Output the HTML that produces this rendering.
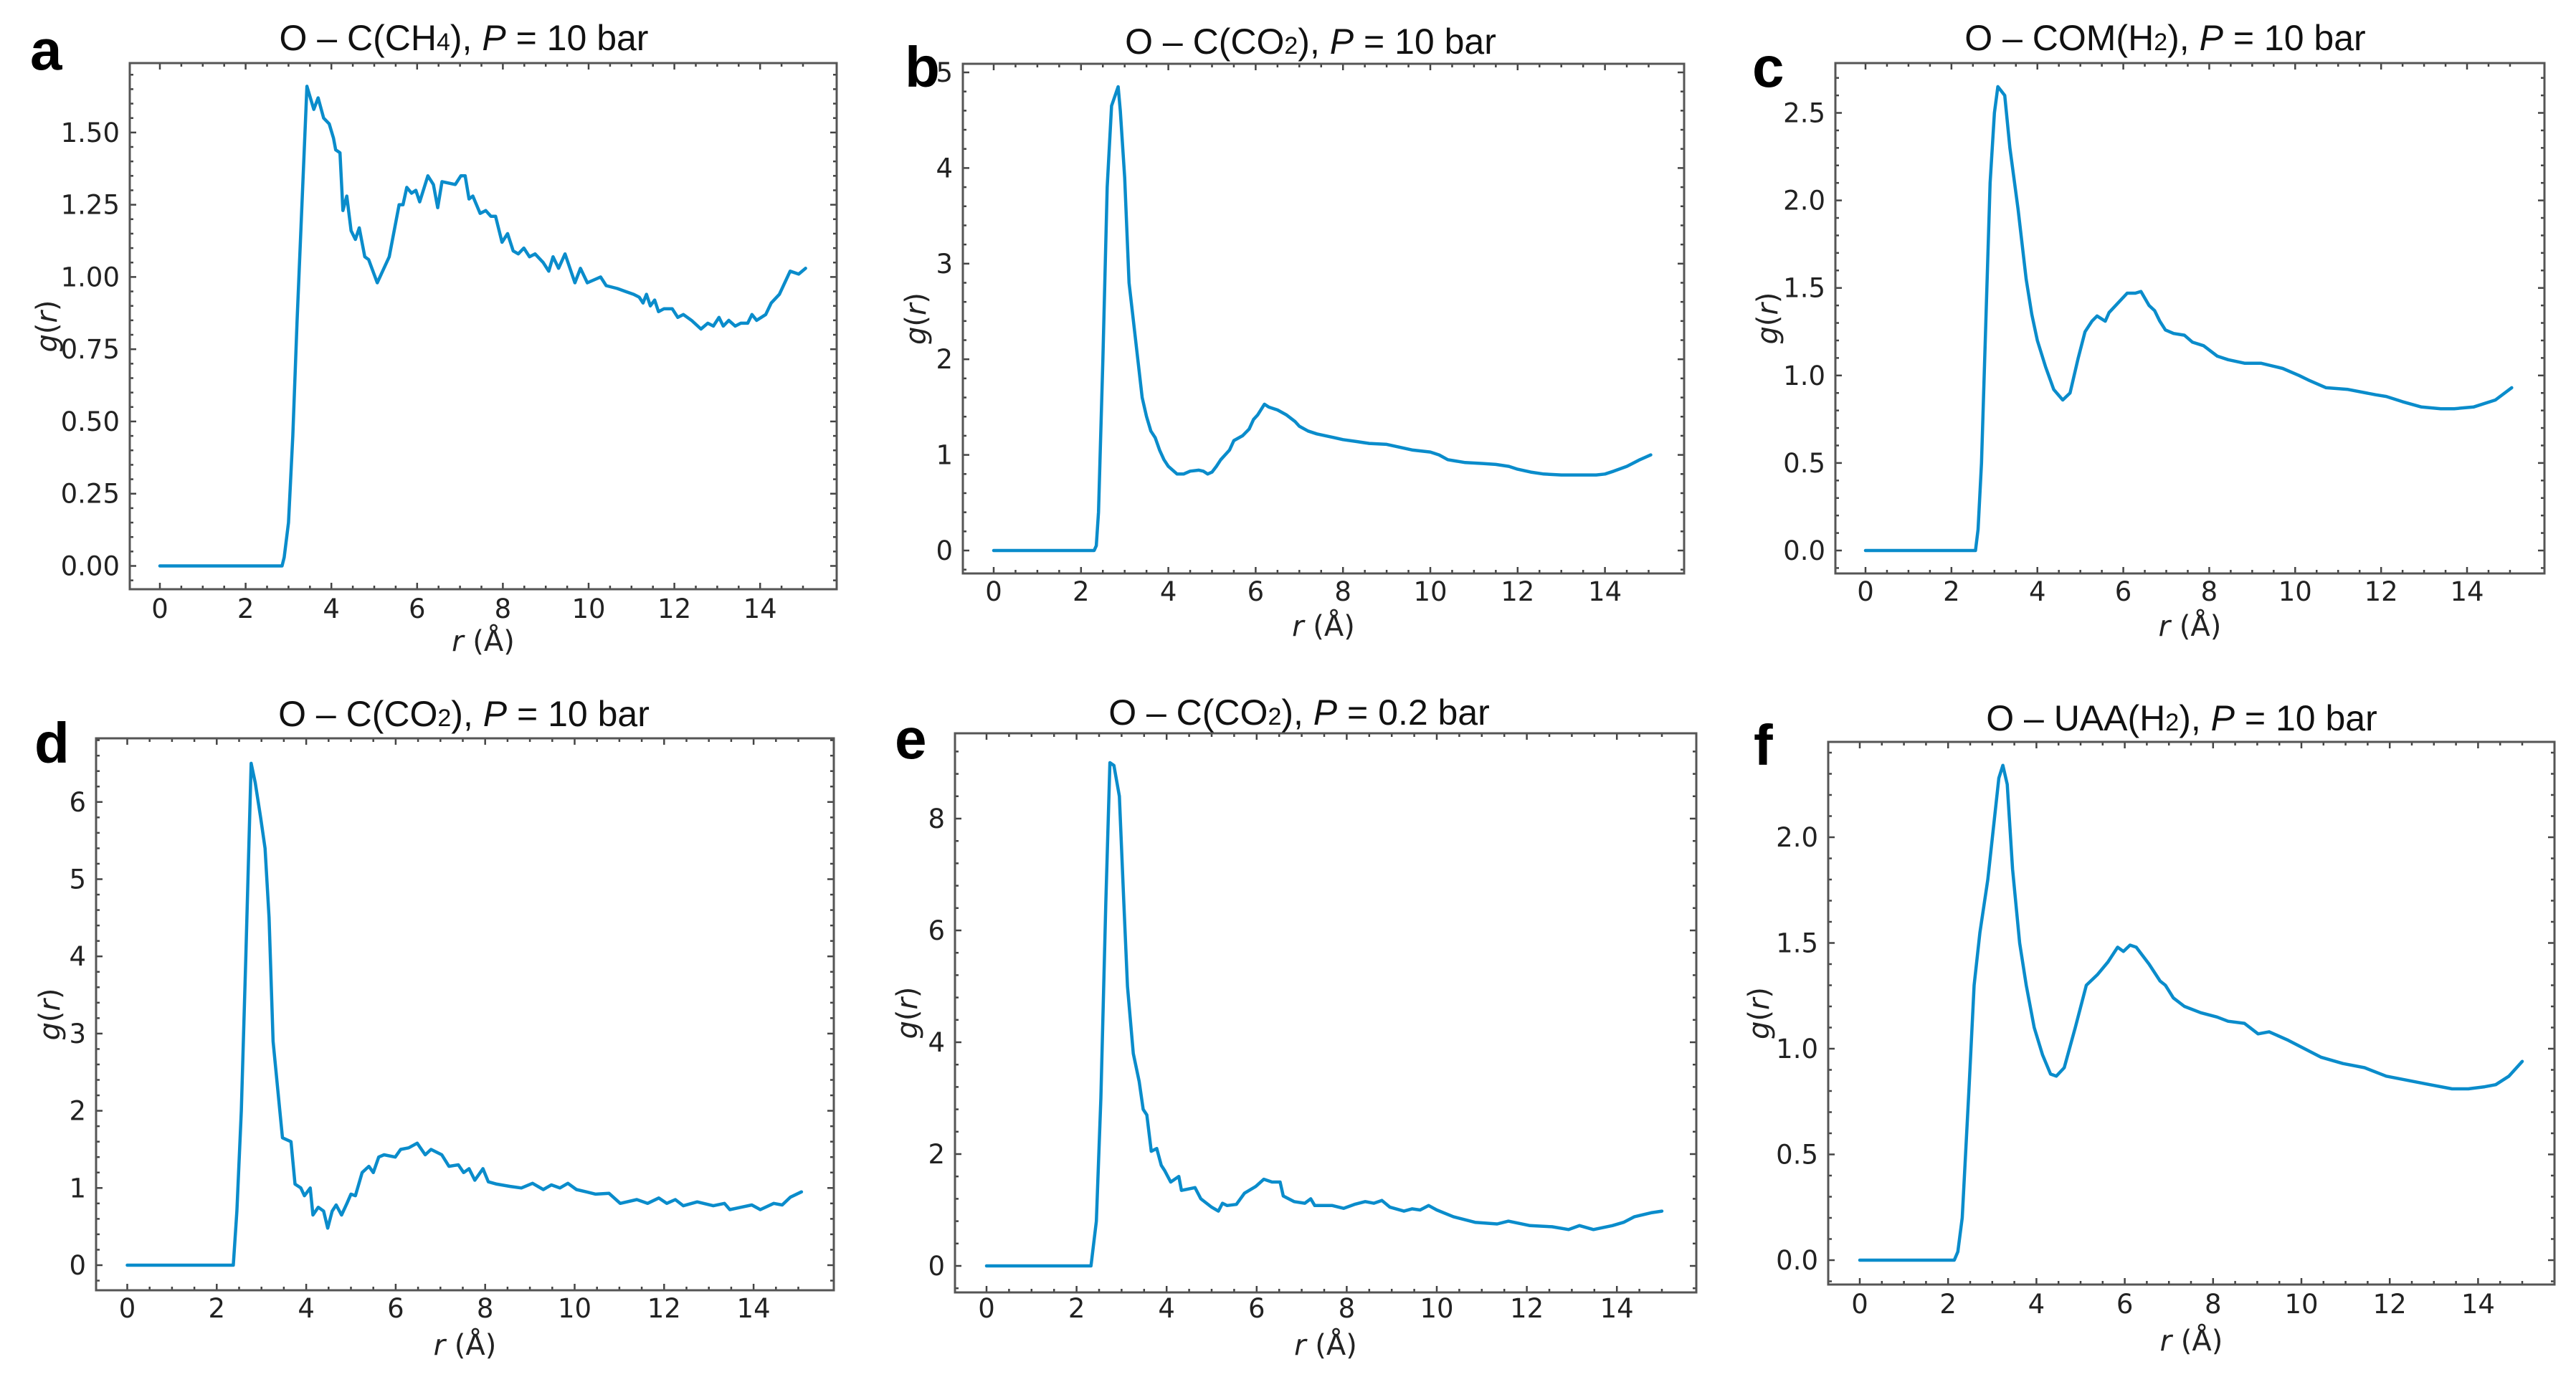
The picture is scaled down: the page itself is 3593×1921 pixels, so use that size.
<!DOCTYPE html>
<html>
<head>
<meta charset="utf-8">
<style>
html,body{margin:0;padding:0;background:#fff;}
svg{display:block;}
text{font-family:"DejaVu Sans","Liberation Sans",sans-serif;fill:#222;}
.ttl{font-family:"Liberation Sans",Arial,sans-serif;font-size:50px;fill:#111;}
.lett{font-family:"Liberation Sans",Arial,sans-serif;font-size:80px;font-weight:bold;fill:#000;}
.tick{font-size:37px;}
.axl{font-size:40px;}
</style>
</head>
<body>
<svg id="fig" width="3593" height="1921" viewBox="0 0 3593 1921" xmlns="http://www.w3.org/2000/svg"></svg>
<script>
// ---- data (r in Å, g(r)) ----
const rA = [0,2.85,2.9,3.0,3.1,3.2,3.3,3.43,3.59,3.69,3.82,3.95,4.05,4.1,4.2,4.27,4.36,4.46,4.56,4.65,4.78,4.87,5.07,5.35,5.58,5.67,5.76,5.87,5.97,6.06,6.25,6.38,6.48,6.58,6.89,7.02,7.12,7.21,7.30,7.47,7.6,7.72,7.83,7.98,8.11,8.24,8.36,8.49,8.62,8.75,8.94,9.07,9.17,9.3,9.45,9.68,9.81,9.97,10.28,10.41,10.67,10.86,11.05,11.18,11.27,11.35,11.44,11.54,11.63,11.76,11.95,12.08,12.21,12.4,12.62,12.78,12.91,13.04,13.14,13.27,13.42,13.55,13.71,13.81,13.92,14.13,14.26,14.45,14.7,14.9,15.06];
const gA = [0,0,0.03,0.15,0.45,0.85,1.2,1.66,1.58,1.62,1.55,1.53,1.48,1.44,1.43,1.23,1.28,1.16,1.13,1.17,1.07,1.06,0.98,1.07,1.25,1.25,1.31,1.29,1.30,1.26,1.35,1.32,1.24,1.33,1.32,1.35,1.35,1.27,1.28,1.22,1.23,1.21,1.21,1.12,1.15,1.09,1.08,1.10,1.07,1.08,1.05,1.02,1.07,1.03,1.08,0.98,1.03,0.98,1.0,0.97,0.96,0.95,0.94,0.93,0.91,0.94,0.90,0.92,0.88,0.89,0.89,0.86,0.87,0.85,0.82,0.84,0.83,0.86,0.83,0.85,0.83,0.84,0.84,0.87,0.85,0.87,0.91,0.94,1.02,1.01,1.03];
const rB = [0,2.3,2.35,2.4,2.5,2.6,2.7,2.85,2.9,3.0,3.1,3.2,3.3,3.4,3.5,3.6,3.7,3.8,3.9,4.0,4.1,4.2,4.35,4.5,4.7,4.8,4.9,5.0,5.1,5.2,5.4,5.5,5.7,5.85,5.95,6.05,6.2,6.3,6.5,6.7,6.9,7.0,7.2,7.4,7.6,7.8,8.0,8.3,8.6,9.0,9.3,9.6,10.0,10.2,10.4,10.8,11.2,11.5,11.8,12.0,12.3,12.6,13.0,13.5,13.8,14.0,14.2,14.5,14.8,15.05];
const gB = [0,0,0.05,0.4,2.0,3.8,4.65,4.85,4.6,3.9,2.8,2.4,2.0,1.6,1.4,1.25,1.18,1.05,0.95,0.88,0.84,0.8,0.8,0.83,0.84,0.83,0.8,0.82,0.88,0.95,1.05,1.15,1.2,1.27,1.37,1.42,1.53,1.5,1.47,1.42,1.35,1.3,1.25,1.22,1.2,1.18,1.16,1.14,1.12,1.11,1.08,1.05,1.03,1.0,0.95,0.92,0.91,0.90,0.88,0.85,0.82,0.80,0.79,0.79,0.79,0.8,0.83,0.88,0.95,1.0];
const rC = [0,2.56,2.62,2.7,2.8,2.9,3.0,3.08,3.24,3.36,3.55,3.74,3.87,4.0,4.19,4.38,4.59,4.76,4.95,5.11,5.27,5.39,5.58,5.67,5.9,6.09,6.28,6.41,6.6,6.73,6.85,6.98,7.17,7.42,7.61,7.87,8.19,8.44,8.82,9.2,9.71,10.09,10.34,10.72,11.23,11.87,12.12,12.5,12.94,13.39,13.7,14.15,14.66,15.04];
const gC = [0,0,0.12,0.5,1.3,2.1,2.5,2.65,2.6,2.3,1.95,1.55,1.35,1.2,1.05,0.92,0.86,0.9,1.1,1.25,1.31,1.34,1.31,1.36,1.42,1.47,1.47,1.48,1.4,1.37,1.31,1.26,1.24,1.23,1.19,1.17,1.11,1.09,1.07,1.07,1.04,1.0,0.97,0.93,0.92,0.89,0.88,0.85,0.82,0.81,0.81,0.82,0.86,0.93];
const rD = [0,2.37,2.45,2.55,2.65,2.77,2.86,2.98,3.08,3.17,3.26,3.41,3.47,3.66,3.75,3.88,3.96,4.09,4.15,4.27,4.39,4.48,4.58,4.67,4.79,4.91,5.0,5.1,5.25,5.4,5.5,5.62,5.74,5.99,6.11,6.29,6.48,6.66,6.79,7.03,7.19,7.4,7.52,7.64,7.77,7.95,8.07,8.26,8.56,8.81,9.06,9.3,9.48,9.67,9.85,10.04,10.26,10.47,10.77,11.02,11.39,11.63,11.88,12.06,12.25,12.43,12.74,13.1,13.35,13.47,13.72,13.96,14.15,14.45,14.64,14.82,15.07];
const gD = [0,0,0.7,2.0,4.0,6.5,6.25,5.8,5.4,4.5,2.9,2.0,1.65,1.6,1.05,1.0,0.9,1.0,0.65,0.75,0.7,0.48,0.7,0.78,0.65,0.8,0.92,0.9,1.2,1.28,1.2,1.4,1.43,1.4,1.5,1.52,1.58,1.43,1.5,1.43,1.28,1.3,1.2,1.25,1.1,1.25,1.08,1.05,1.02,1.0,1.06,0.98,1.04,1.0,1.06,0.98,0.95,0.92,0.93,0.8,0.85,0.8,0.87,0.8,0.85,0.77,0.82,0.77,0.8,0.72,0.75,0.78,0.72,0.8,0.78,0.88,0.95];
const rE = [0,2.32,2.44,2.54,2.65,2.74,2.83,2.95,3.05,3.13,3.26,3.39,3.48,3.56,3.66,3.78,3.88,3.96,4.09,4.27,4.33,4.63,4.76,5.0,5.15,5.24,5.34,5.55,5.73,5.98,6.16,6.34,6.52,6.59,6.83,7.07,7.2,7.29,7.68,7.93,8.17,8.41,8.6,8.78,8.96,9.27,9.45,9.63,9.82,10.0,10.37,10.85,11.34,11.59,12.07,12.56,12.93,13.17,13.48,13.9,14.15,14.39,14.76,15.0];
const gE = [0,0,0.8,3.0,6.5,9.0,8.95,8.4,6.5,5.0,3.8,3.3,2.8,2.7,2.05,2.1,1.8,1.7,1.5,1.6,1.35,1.4,1.2,1.05,0.98,1.12,1.08,1.1,1.3,1.42,1.55,1.5,1.5,1.25,1.15,1.12,1.2,1.08,1.08,1.03,1.1,1.15,1.12,1.17,1.05,0.98,1.02,1.0,1.08,1.0,0.88,0.78,0.75,0.8,0.72,0.7,0.65,0.72,0.65,0.72,0.78,0.88,0.95,0.98];
const rF = [0,2.14,2.22,2.32,2.47,2.59,2.72,2.9,3.03,3.15,3.24,3.34,3.46,3.62,3.77,3.95,4.14,4.32,4.45,4.63,4.88,5.13,5.38,5.62,5.84,5.97,6.12,6.26,6.55,6.8,6.92,7.1,7.35,7.72,8.09,8.34,8.71,9.02,9.27,9.7,10.07,10.44,10.94,11.43,11.92,12.42,12.91,13.41,13.78,14.15,14.4,14.7,15.0];
const gF = [0,0,0.04,0.2,0.8,1.3,1.55,1.8,2.05,2.28,2.34,2.25,1.85,1.5,1.3,1.1,0.97,0.88,0.87,0.91,1.1,1.3,1.35,1.41,1.48,1.46,1.49,1.48,1.4,1.32,1.3,1.24,1.2,1.17,1.15,1.13,1.12,1.07,1.08,1.04,1.0,0.96,0.93,0.91,0.87,0.85,0.83,0.81,0.81,0.82,0.83,0.87,0.94];
const xTicks = [0,2,4,6,8,10,12,14];
const yTicksA = [0,0.25,0.5,0.75,1.0,1.25,1.5];
const yTicksB = [0,1,2,3,4,5];
const yTicksC = [0,0.5,1.0,1.5,2.0,2.5];
const yTicksD = [0,1,2,3,4,5,6];
const yTicksE = [0,2,4,6,8];
const yTicksF = [0,0.5,1.0,1.5,2.0];
const yDecA = 2, yDecB = 0, yDecC = 1, yDecD = 0, yDecE = 0, yDecF = 1;

const NS = "http://www.w3.org/2000/svg";
const fig = document.getElementById('fig');
function mk(tag, attrs, parent){
  const e = document.createElementNS(NS, tag);
  for (const k in attrs) e.setAttribute(k, attrs[k]);
  (parent||fig).appendChild(e);
  return e;
}

// layout (pixel geometry) per panel
const panels = [
 {id:'a', r:rA, g:gA, yt:yTicksA, dec:yDecA, L:181,R:1167,T:88,B:822, x0:223,kx:59.8, y0:789.5,ky:403.1, ymn:0.05,
  title:['O – C(CH','4','), ','P',' = 10 bar'], tx:647, ty:70, lx:42, ly:97, ylx:65, xly:908, xty:862},
 {id:'b', r:rB, g:gB, yt:yTicksB, dec:yDecB, L:1343,R:2349,T:89,B:800, x0:1386,kx:60.9, y0:768,ky:133.4, ymn:0.2,
  title:['O – C(CO','2','), ','P',' = 10 bar'], tx:1828, ty:75, lx:1262, ly:121, ylx:1277, xly:887, xty:838},
 {id:'c', r:rC, g:gC, yt:yTicksC, dec:yDecC, L:2560,R:3549,T:88,B:800, x0:2602,kx:59.93, y0:768,ky:244.2, ymn:0.1,
  title:['O – COM(H','2','), ','P',' = 10 bar'], tx:3020, ty:70, lx:2444, ly:121, ylx:2465, xly:887, xty:838},
 {id:'d', r:rD, g:gD, yt:yTicksD, dec:yDecD, L:134,R:1163,T:1030,B:1800, x0:177.5,kx:62.4, y0:1765,ky:107.7, ymn:0.2,
  title:['O – C(CO','2','), ','P',' = 10 bar'], tx:647, ty:1013, lx:48, ly:1064, ylx:69, xly:1890, xty:1838},
 {id:'e', r:rE, g:gE, yt:yTicksE, dec:yDecE, L:1332,R:2366,T:1023,B:1803, x0:1376,kx:62.8, y0:1766,ky:78, ymn:0.4,
  title:['O – C(CO','2','), ','P',' = 0.2 bar'], tx:1812, ty:1011, lx:1248, ly:1058, ylx:1265, xly:1890, xty:1838},
 {id:'f', r:rF, g:gF, yt:yTicksF, dec:yDecF, L:2550,R:3563,T:1035,B:1792, x0:2594,kx:61.6, y0:1758,ky:295, ymn:0.1,
  title:['O – UAA(H','2','), ','P',' = 10 bar'], tx:3043, ty:1019, lx:2446, ly:1067, ylx:2453, xly:1884, xty:1832}
];

panels.forEach(p => {
  const X = v => p.x0 + v*p.kx;
  const Y = v => p.y0 - v*p.ky;
  const grp = mk('g', {});
  
  

  const t = mk('text', {x:p.tx, y:p.ty, 'text-anchor':'middle', class:'ttl'}, grp);
  
  
  p.title.forEach((s,i) => {
    const ts = mk('tspan', {}, t);
    if (i===1) ts.setAttribute('font-size','34');
    if (i===3) ts.setAttribute('font-style','italic');
    ts.textContent = s;
  });

  const lt = mk('text', {x:p.lx, y:p.ly, class:'lett'}, grp);
  
  
  lt.textContent = p.id;

  for (let v=0; v<=15.01; v+=0.5) {
    const maj = Math.abs(v/2 - Math.round(v/2)) < 1e-6;
    const len = maj ? 9 : 5;
    mk('line', {x1:X(v), x2:X(v), y1:p.B, y2:p.B-len, stroke:'#444','stroke-width':2.5}, grp);
    mk('line', {x1:X(v), x2:X(v), y1:p.T, y2:p.T+len, stroke:'#444','stroke-width':2.5}, grp);
  }
  xTicks.forEach(v => {
    const tl = mk('text', {x:X(v), y:p.xty, 'text-anchor':'middle', class:'tick'}, grp);
    
    
    tl.textContent = String(v);
  });
  const ylo = (p.y0 - p.B)/p.ky, yhi = (p.y0 - p.T)/p.ky;
  const start = Math.ceil(ylo/p.ymn - 1e-6);
  for (let i=start; i*p.ymn<=yhi; i++) {
    const v = i*p.ymn;
    const maj = p.yt.some(tv => Math.abs(tv - v) < 1e-6);
    const len = maj ? 9 : 5;
    mk('line', {x1:p.L, x2:p.L+len, y1:Y(v), y2:Y(v), stroke:'#444','stroke-width':2.5}, grp);
    mk('line', {x1:p.R, x2:p.R-len, y1:Y(v), y2:Y(v), stroke:'#444','stroke-width':2.5}, grp);
  }
  p.yt.forEach(v => {
    const tl = mk('text', {x:p.L-14, y:Y(v)+13, 'text-anchor':'end', class:'tick'}, grp);
    
    
    tl.textContent = v.toFixed(p.dec);
  });

  const yl = mk('text', {x:0, y:0, 'text-anchor':'middle', class:'axl', transform:`translate(${p.ylx+14},${(p.T+p.B)/2}) rotate(-90)`}, grp);
  
  
  let s1 = mk('tspan', {'font-style':'italic'}, yl); s1.textContent = 'g';
  let s2 = mk('tspan', {}, yl); s2.textContent = '(';
  let s3 = mk('tspan', {'font-style':'italic'}, yl); s3.textContent = 'r';
  let s4 = mk('tspan', {}, yl); s4.textContent = ')';
  const xl = mk('text', {x:(p.L+p.R)/2, y:p.xly, 'text-anchor':'middle', class:'axl'}, grp);
  
  
  let x1 = mk('tspan', {'font-style':'italic'}, xl); x1.textContent = 'r';
  let x2 = mk('tspan', {}, xl); x2.textContent = ' (Å)';

  const pts = p.r.map((rv,i) => X(rv).toFixed(1) + ',' + Y(p.g[i]).toFixed(1)).join(' ');
  const ln = mk('polyline', {points:pts, fill:'none', stroke:'#0a8ccb', 'stroke-width':4.5, 'stroke-linejoin':'round', 'stroke-linecap':'round'}, grp);
  
  

  const fr = mk('rect', {x:p.L, y:p.T, width:p.R-p.L, height:p.B-p.T, fill:'none', stroke:'#555', 'stroke-width':3}, grp);
  
  
});
</script>
</body>
</html>
